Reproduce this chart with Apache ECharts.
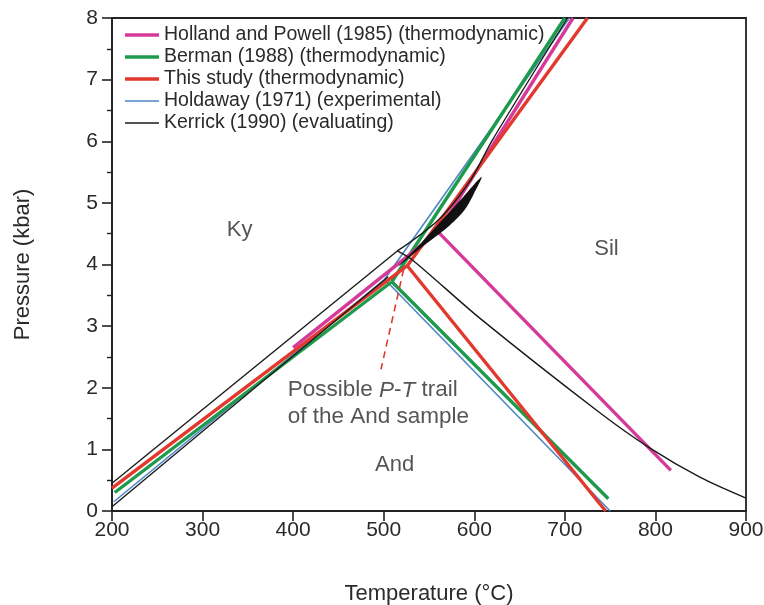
<!DOCTYPE html>
<html><head><meta charset="utf-8">
<script src="https://cdn.jsdelivr.net/npm/echarts@6/dist/echarts.min.js"></script>
<style>html,body{margin:0;padding:0;background:#fff}#c{width:764px;height:605px}</style>
</head><body><div id="c"></div>
<script>
// Axis ticks
const xTicks = [200, 300, 400, 500, 600, 700, 800, 900];
const yTicks = [0, 1, 2, 3, 4, 5, 6, 7, 8];

// Holland and Powell (1985) (thermodynamic)  [T °C, P kbar]
const hpKyAnd  = [[400, 2.65], [560, 4.53]];
const hpAndSil = [[560, 4.53], [817, 0.66]];
const hpKySil  = [[560, 4.53], [709, 8]];

// Berman (1988) (thermodynamic)
const bmKyAnd  = [[203, 0.30], [509, 3.72]];
const bmAndSil = [[509, 3.72], [748, 0.20]];
const bmKySil  = [[509, 3.72], [700, 8]];

// This study (thermodynamic)
const tsKyAnd  = [[200, 0.37], [526, 3.98]];
const tsAndSil = [[526, 3.98], [745, 0]];
const tsKySil  = [[526, 3.98], [725, 8]];
const tsTrail  = [[522, 3.92], [497, 2.30]];

// Holdaway (1971) (experimental)
const hdKyAnd  = [[202, 0.15], [501, 3.76]];
const hdAndSil = [[501, 3.76], [750, 0]];
const hdKySil  = [[501, 3.76], [705, 8]];

// Kerrick (1990) (evaluating)
const krKyAnd   = [[200, 0.45], [515, 4.22]];
const krKyAndLo = [[200, 0.07], [505, 3.80]];
const krAndSil  = [[515, 4.22], [532, 4.07], [606, 3.13], [739, 1.59], [794, 1.02], [849, 0.55], [900, 0.21]];
const krKySil   = [[515, 4.22], [560, 4.72], [595, 5.35], [620, 6.02], [703, 8]];
const krBand    = [[516, 3.97], [540, 4.33], [562, 4.68], [585, 5.05], [608, 5.42],
                   [599.3, 5.14], [589, 4.88], [570.2, 4.60], [543.7, 4.30]];

// Field labels
const fieldLabels = [[341, 4.56, 'Ky'], [746, 4.25, 'Sil'], [512, 0.74, 'And']];
const trailLabel = [394, 1.74];

const NAMES = ['Holland and Powell (1985) (thermodynamic)', 'Berman (1988) (thermodynamic)',
  'This study (thermodynamic)', 'Holdaway (1971) (experimental)', 'Kerrick (1990) (evaluating)'];
const COL = { hp: '#d63a98', bm: '#1e9a4c', ts: '#e2382e', hd: '#4d86c6', kr: '#1a1a1a' };
const FONT = '"Liberation Sans", Arial, sans-serif';
const THICK = 'path://M0,0H34V3.6H0Z';
const THIN = 'path://M0,0H34V1.6H0Z';

function ln(name, data, color, width, z, extra) {
  return Object.assign({
    type: 'line', name: name, data: data, showSymbol: false, symbol: 'none', z: z,
    lineStyle: { color: color, width: width, cap: 'butt' }, itemStyle: { color: color },
    silent: true, animation: false
  }, extra || {});
}

const series = [
  ln(NAMES[3], hdKyAnd, COL.hd, 1.6, 2), ln(NAMES[3], hdAndSil, COL.hd, 1.6, 2), ln(NAMES[3], hdKySil, COL.hd, 1.6, 2),
  ln(NAMES[1], bmKyAnd, COL.bm, 3.4, 3), ln(NAMES[1], bmAndSil, COL.bm, 3.4, 3), ln(NAMES[1], bmKySil, COL.bm, 3.4, 3),
  ln(NAMES[0], hpKyAnd, COL.hp, 3.4, 4), ln(NAMES[0], hpAndSil, COL.hp, 3.4, 4), ln(NAMES[0], hpKySil, COL.hp, 3.4, 4),
  ln(NAMES[2], tsKyAnd, COL.ts, 3.4, 5), ln(NAMES[2], tsAndSil, COL.ts, 3.4, 5), ln(NAMES[2], tsKySil, COL.ts, 3.4, 5),
  ln('trail', tsTrail, COL.ts, 1.6, 5, { lineStyle: { color: COL.ts, width: 1.6, type: [7, 5] } }),
  ln(NAMES[4], krKyAnd, COL.kr, 1.4, 6), ln(NAMES[4], krKyAndLo, COL.kr, 1.4, 6),
  ln(NAMES[4], krAndSil, COL.kr, 1.4, 6, { smooth: 0.3 }), ln(NAMES[4], krKySil, COL.kr, 1.4, 6, { smooth: 0.3 }),
  {
    type: 'custom', name: 'band', data: krBand, z: 7, silent: true, animation: false,
    renderItem: function (params, api) {
      if (params.dataIndex !== 0) return;
      const pts = krBand.map(p => api.coord(p));
      return { type: 'polygon', shape: { points: pts, smooth: 0.3 }, style: { fill: '#111' } };
    }
  },
  {
    type: 'scatter', name: 'fields', symbolSize: 0, z: 8, silent: true, animation: false,
    data: fieldLabels.map(d => ({ value: [d[0], d[1]], name: d[2] })),
    label: { show: true, position: 'inside', formatter: p => p.name, fontSize: 22, color: '#2a2a2a', fontFamily: FONT }
  },
  {
    type: 'scatter', name: 'trailText', symbolSize: 0, z: 8, silent: true, animation: false,
    data: [trailLabel],
    label: {
      show: true, position: 'inside', align: 'left', verticalAlign: 'middle',
      formatter: '{n|Possible }{i|P}{n|-}{i|T}{n| trail}\n{n|of the And sample}',
      rich: {
        n: { fontSize: 22.5, color: '#2a2a2a', fontFamily: FONT, lineHeight: 27 },
        i: { fontSize: 22.5, color: '#2a2a2a', fontFamily: FONT, fontStyle: 'italic', lineHeight: 27 }
      }
    }
  }
];

const chart = echarts.init(document.getElementById('c'), null, { renderer: 'canvas' });
chart.setOption({
  backgroundColor: '#fff',
  animation: false,
  grid: { left: 112, right: 18, top: 18, bottom: 94, show: true, borderColor: '#222', borderWidth: 1.8,
          backgroundColor: 'transparent', containLabel: false, outerBoundsMode: 'none' },
  legend: {
    data: [
      { name: NAMES[0], icon: THICK }, { name: NAMES[1], icon: THICK }, { name: NAMES[2], icon: THICK },
      { name: NAMES[3], icon: THIN }, { name: NAMES[4], icon: THIN }
    ],
    orient: 'vertical', left: 125, top: 24, padding: 0, itemWidth: 34, itemHeight: 14, itemGap: 0,
    textStyle: { fontSize: 19.5, color: '#2a2a2a', fontFamily: FONT, lineHeight: 22 },
    selectedMode: false, backgroundColor: 'transparent'
  },
  xAxis: {
    type: 'value', min: xTicks[0], max: xTicks[xTicks.length - 1], interval: 100,
    name: 'Temperature (°C)', nameLocation: 'middle', nameGap: 72,
    nameTextStyle: { fontSize: 22, color: '#2a2a2a', fontFamily: FONT },
    axisLine: { show: true, lineStyle: { color: '#222', width: 1.6 } },
    axisTick: { show: true, length: 10, inside: false, lineStyle: { color: '#222', width: 1.6 } },
    axisLabel: { fontSize: 21, color: '#2a2a2a', fontFamily: FONT, margin: 9 },
    splitLine: { show: false }
  },
  yAxis: {
    type: 'value', min: yTicks[0], max: yTicks[yTicks.length - 1], interval: 1,
    name: 'Pressure (kbar)', nameLocation: 'middle', nameGap: 78, nameRotate: 90,
    nameTextStyle: { fontSize: 22, color: '#2a2a2a', fontFamily: FONT },
    axisLine: { show: true, lineStyle: { color: '#222', width: 1.6 } },
    axisTick: { show: true, length: 10, lineStyle: { color: '#222', width: 1.6 } },
    minorTick: { show: true, splitNumber: 2, length: 5, lineStyle: { color: '#222', width: 1.4 } },
    axisLabel: { fontSize: 21, color: '#2a2a2a', fontFamily: FONT, margin: 14 },
    splitLine: { show: false }
  },
  series: series
});
</script></body></html>
